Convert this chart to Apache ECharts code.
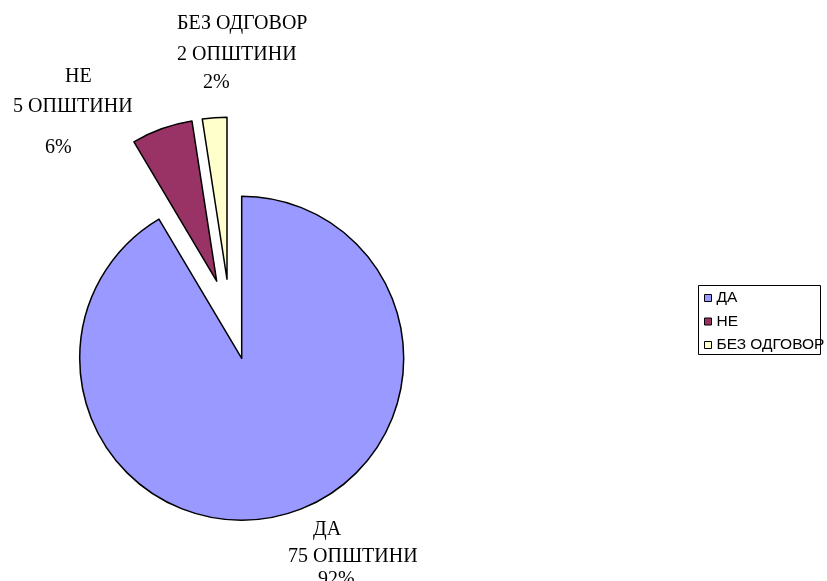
<!DOCTYPE html>
<html>
<head>
<meta charset="utf-8">
<script src="https://cdn.jsdelivr.net/npm/echarts@6/dist/echarts.min.js"></script>
<style>
  html, body { margin: 0; padding: 0; background: #fff; }
  #chart { width: 827px; height: 581px; }
</style>
</head>
<body>
<div id="chart"></div>
<script>
// Answers by municipality
const categories = ['ДА', 'НЕ', 'БЕЗ ОДГОВОР'];
const municipalities = [75, 5, 2];
const unitLabel = 'ОПШТИНИ';
const sliceColors = ['#9999FF', '#993366', '#FFFFCC'];

// Each answer is drawn by its own pie series so exploded slices can sit apart.
// Per slice: pie centre, label block anchor, per-line left indent and line heights.
const sliceLayout = [
  { center: [241.7, 358.3], label: [288, 517], indent: [25, 0, 30], lines: [26, 28, 18] },
  { center: [216.7, 281.2], label: [13, 62],  indent: [52, 0, 32], lines: [30, 30, 52] },
  { center: [227.0, 279.2], label: [177, 9],  indent: [0, 0, 26],  lines: [30, 32, 24] }
];

const serifFont = 'Liberation Serif, Times New Roman, serif';

function sliceSeries(idx) {
  const lay = sliceLayout[idx];
  const rich = {};
  ['l1', 'l2', 'l3'].forEach((k, j) => {
    rich[k] = {
      fontFamily: serifFont, fontSize: 20, color: '#000',
      lineHeight: lay.lines[j], padding: [0, 0, 0, lay.indent[j]]
    };
  });
  return {
    type: 'pie',
    name: categories[idx],
    center: lay.center,
    radius: 162,
    startAngle: 90,
    clockwise: true,
    percentPrecision: 0,
    silent: true,
    animation: false,
    data: categories.map((name, i) => ({
      name,
      value: municipalities[i],
      itemStyle: i === idx
        ? { color: sliceColors[i], borderColor: '#000', borderWidth: 1.5 }
        : { color: 'rgba(0,0,0,0)', borderWidth: 0 },
      label: { show: i === idx },
      labelLine: { show: false }
    })),
    label: {
      position: 'outside',
      overflow: 'none',
      formatter: p => '{l1|' + p.name + '}\n{l2|' + p.value + ' ' + unitLabel + '}\n{l3|' + p.percent + '%}',
      rich
    },
    labelLine: { show: false },
    labelLayout: { x: lay.label[0], y: lay.label[1], align: 'left', verticalAlign: 'top' }
  };
}

const chart = echarts.init(document.getElementById('chart'), null, { renderer: 'canvas' });
chart.setOption({
  backgroundColor: '#fff',
  animation: false,
  legend: {
    orient: 'vertical',
    left: 704,
    top: 290,
    padding: 0,
    icon: 'rect',
    itemWidth: 7,
    itemHeight: 7,
    itemGap: 7.5,
    selectedMode: false,
    textStyle: { fontFamily: 'Liberation Sans, Arial, sans-serif', fontSize: 15.5, color: '#000' },
    data: categories.map((name, i) => ({
      name,
      itemStyle: { color: sliceColors[i], borderColor: '#000', borderWidth: 1 }
    }))
  },
  graphic: [{
    type: 'rect',
    z: -1,
    shape: { x: 698.5, y: 285.5, width: 122, height: 69 },
    style: { fill: 'none', stroke: '#000', lineWidth: 1 }
  }],
  series: categories.map((_, i) => sliceSeries(i))
});
</script>
</body>
</html>
